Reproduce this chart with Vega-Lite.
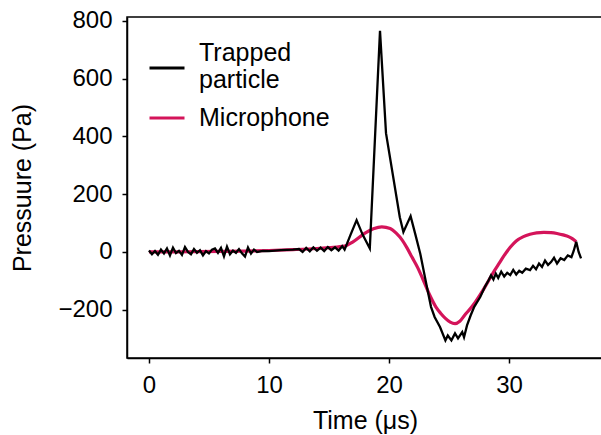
{
  "$schema": "https://vega.github.io/schema/vega-lite/v6.json",
  "autosize": "none",
  "width": 476,
  "height": 341,
  "padding": {"left": 127, "top": 17, "right": 0, "bottom": 77},
  "background": "white",
  "config": {
    "font": "Liberation Sans",
    "view": {"stroke": "black", "strokeWidth": 1.5},
    "axis": {
      "grid": false,
      "domainColor": "black",
      "domainWidth": 1.5,
      "tickColor": "black",
      "tickWidth": 1.5,
      "tickSize": 5,
      "labelColor": "black",
      "titleColor": "black",
      "labelFontSize": 24,
      "titleFontSize": 25,
      "titleFontWeight": "normal",
      "labelFont": "Liberation Sans",
      "titleFont": "Liberation Sans"
    }
  },
  "datasets": {
    "trace": [
      {"series": "Trapped particle", "t": 0, "p": 5},
      {"series": "Trapped particle", "t": 0.25, "p": -8},
      {"series": "Trapped particle", "t": 0.5, "p": 3},
      {"series": "Trapped particle", "t": 0.75, "p": -10},
      {"series": "Trapped particle", "t": 1.0, "p": 8},
      {"series": "Trapped particle", "t": 1.25, "p": -5},
      {"series": "Trapped particle", "t": 1.5, "p": 12},
      {"series": "Trapped particle", "t": 1.75, "p": -12},
      {"series": "Trapped particle", "t": 2.0, "p": 15},
      {"series": "Trapped particle", "t": 2.25, "p": -4},
      {"series": "Trapped particle", "t": 2.5, "p": 4},
      {"series": "Trapped particle", "t": 2.75, "p": -10},
      {"series": "Trapped particle", "t": 3.0, "p": 17},
      {"series": "Trapped particle", "t": 3.25, "p": 0},
      {"series": "Trapped particle", "t": 3.5, "p": -8},
      {"series": "Trapped particle", "t": 3.75, "p": 10},
      {"series": "Trapped particle", "t": 4.0, "p": -3},
      {"series": "Trapped particle", "t": 4.25, "p": 6},
      {"series": "Trapped particle", "t": 4.5, "p": -12},
      {"series": "Trapped particle", "t": 4.75, "p": 3},
      {"series": "Trapped particle", "t": 5.0, "p": -5},
      {"series": "Trapped particle", "t": 5.25, "p": 8},
      {"series": "Trapped particle", "t": 5.5, "p": 12},
      {"series": "Trapped particle", "t": 5.75, "p": -3},
      {"series": "Trapped particle", "t": 6.0, "p": 14},
      {"series": "Trapped particle", "t": 6.25, "p": -15},
      {"series": "Trapped particle", "t": 6.5, "p": 18},
      {"series": "Trapped particle", "t": 6.75, "p": -8},
      {"series": "Trapped particle", "t": 7.0, "p": 5},
      {"series": "Trapped particle", "t": 7.25, "p": -3},
      {"series": "Trapped particle", "t": 7.5, "p": 10},
      {"series": "Trapped particle", "t": 7.75, "p": -5},
      {"series": "Trapped particle", "t": 8.0, "p": -16},
      {"series": "Trapped particle", "t": 8.25, "p": 15},
      {"series": "Trapped particle", "t": 8.5, "p": -6},
      {"series": "Trapped particle", "t": 8.75, "p": 8},
      {"series": "Trapped particle", "t": 9.0, "p": 0},
      {"series": "Trapped particle", "t": 9.5, "p": 4},
      {"series": "Trapped particle", "t": 10.0, "p": 3},
      {"series": "Trapped particle", "t": 11.0, "p": 6},
      {"series": "Trapped particle", "t": 12.0, "p": 8},
      {"series": "Trapped particle", "t": 12.5, "p": 10},
      {"series": "Trapped particle", "t": 12.8, "p": 0},
      {"series": "Trapped particle", "t": 13.1, "p": 14},
      {"series": "Trapped particle", "t": 13.4, "p": 2},
      {"series": "Trapped particle", "t": 13.7, "p": 16},
      {"series": "Trapped particle", "t": 14.0, "p": 4},
      {"series": "Trapped particle", "t": 14.3, "p": 15},
      {"series": "Trapped particle", "t": 14.6, "p": 3},
      {"series": "Trapped particle", "t": 14.9, "p": 17},
      {"series": "Trapped particle", "t": 15.2, "p": 6},
      {"series": "Trapped particle", "t": 15.5, "p": 16},
      {"series": "Trapped particle", "t": 15.8, "p": 5},
      {"series": "Trapped particle", "t": 16.1, "p": 20},
      {"series": "Trapped particle", "t": 16.3, "p": 8},
      {"series": "Trapped particle", "t": 16.8, "p": 60},
      {"series": "Trapped particle", "t": 17.3, "p": 110},
      {"series": "Trapped particle", "t": 17.8, "p": 60},
      {"series": "Trapped particle", "t": 18.4, "p": 12},
      {"series": "Trapped particle", "t": 19.25, "p": 765},
      {"series": "Trapped particle", "t": 19.75, "p": 411},
      {"series": "Trapped particle", "t": 20.9, "p": 120},
      {"series": "Trapped particle", "t": 21.2, "p": 69},
      {"series": "Trapped particle", "t": 21.8, "p": 124},
      {"series": "Trapped particle", "t": 22.2, "p": 60},
      {"series": "Trapped particle", "t": 22.6, "p": -5},
      {"series": "Trapped particle", "t": 23.1, "p": -109},
      {"series": "Trapped particle", "t": 23.5, "p": -190},
      {"series": "Trapped particle", "t": 23.8, "p": -225},
      {"series": "Trapped particle", "t": 24.25, "p": -260},
      {"series": "Trapped particle", "t": 24.7, "p": -306},
      {"series": "Trapped particle", "t": 24.9, "p": -289},
      {"series": "Trapped particle", "t": 25.2, "p": -306},
      {"series": "Trapped particle", "t": 25.5, "p": -282},
      {"series": "Trapped particle", "t": 25.75, "p": -299},
      {"series": "Trapped particle", "t": 26.1, "p": -277},
      {"series": "Trapped particle", "t": 26.25, "p": -295},
      {"series": "Trapped particle", "t": 26.5, "p": -254},
      {"series": "Trapped particle", "t": 26.8, "p": -220},
      {"series": "Trapped particle", "t": 27.1, "p": -190},
      {"series": "Trapped particle", "t": 27.6, "p": -156},
      {"series": "Trapped particle", "t": 28.0, "p": -120},
      {"series": "Trapped particle", "t": 28.3, "p": -98},
      {"series": "Trapped particle", "t": 28.5, "p": -81},
      {"series": "Trapped particle", "t": 28.7, "p": -95},
      {"series": "Trapped particle", "t": 28.9, "p": -75},
      {"series": "Trapped particle", "t": 29.1, "p": -90},
      {"series": "Trapped particle", "t": 29.35, "p": -68},
      {"series": "Trapped particle", "t": 29.6, "p": -85},
      {"series": "Trapped particle", "t": 29.85, "p": -72},
      {"series": "Trapped particle", "t": 30.1, "p": -80},
      {"series": "Trapped particle", "t": 30.35, "p": -62},
      {"series": "Trapped particle", "t": 30.6, "p": -78},
      {"series": "Trapped particle", "t": 30.85, "p": -65},
      {"series": "Trapped particle", "t": 31.1, "p": -72},
      {"series": "Trapped particle", "t": 31.4, "p": -58},
      {"series": "Trapped particle", "t": 31.75, "p": -63},
      {"series": "Trapped particle", "t": 32.0, "p": -48},
      {"series": "Trapped particle", "t": 32.25, "p": -60},
      {"series": "Trapped particle", "t": 32.5, "p": -40},
      {"series": "Trapped particle", "t": 32.75, "p": -52},
      {"series": "Trapped particle", "t": 33.0, "p": -30},
      {"series": "Trapped particle", "t": 33.25, "p": -45},
      {"series": "Trapped particle", "t": 33.5, "p": -35},
      {"series": "Trapped particle", "t": 33.75, "p": -20},
      {"series": "Trapped particle", "t": 34.0, "p": -40},
      {"series": "Trapped particle", "t": 34.3, "p": -22},
      {"series": "Trapped particle", "t": 34.6, "p": -28},
      {"series": "Trapped particle", "t": 34.9, "p": -12},
      {"series": "Trapped particle", "t": 35.2, "p": -18},
      {"series": "Trapped particle", "t": 35.4, "p": 5},
      {"series": "Trapped particle", "t": 35.6, "p": 35},
      {"series": "Trapped particle", "t": 35.8, "p": 0},
      {"series": "Trapped particle", "t": 36.0, "p": -22},
      {"series": "Microphone", "t": 0, "p": 0},
      {"series": "Microphone", "t": 2, "p": 0},
      {"series": "Microphone", "t": 4, "p": 1},
      {"series": "Microphone", "t": 6, "p": 2},
      {"series": "Microphone", "t": 8, "p": 3},
      {"series": "Microphone", "t": 10, "p": 5},
      {"series": "Microphone", "t": 12, "p": 8},
      {"series": "Microphone", "t": 14, "p": 12},
      {"series": "Microphone", "t": 15, "p": 15},
      {"series": "Microphone", "t": 16.3, "p": 20},
      {"series": "Microphone", "t": 17, "p": 35},
      {"series": "Microphone", "t": 18, "p": 65},
      {"series": "Microphone", "t": 18.7, "p": 80},
      {"series": "Microphone", "t": 19.4, "p": 87},
      {"series": "Microphone", "t": 20.1, "p": 81},
      {"series": "Microphone", "t": 20.6, "p": 65},
      {"series": "Microphone", "t": 21.1, "p": 41},
      {"series": "Microphone", "t": 21.5, "p": 14},
      {"series": "Microphone", "t": 21.9, "p": -17},
      {"series": "Microphone", "t": 22.4, "p": -55},
      {"series": "Microphone", "t": 22.8, "p": -92},
      {"series": "Microphone", "t": 23.4, "p": -150},
      {"series": "Microphone", "t": 23.9, "p": -190},
      {"series": "Microphone", "t": 24.3, "p": -212},
      {"series": "Microphone", "t": 24.7, "p": -230},
      {"series": "Microphone", "t": 25.1, "p": -243},
      {"series": "Microphone", "t": 25.5, "p": -248},
      {"series": "Microphone", "t": 25.9, "p": -240},
      {"series": "Microphone", "t": 26.3, "p": -219},
      {"series": "Microphone", "t": 26.8, "p": -195},
      {"series": "Microphone", "t": 27.2, "p": -173},
      {"series": "Microphone", "t": 27.6, "p": -148},
      {"series": "Microphone", "t": 28.0, "p": -121},
      {"series": "Microphone", "t": 28.4, "p": -92},
      {"series": "Microphone", "t": 28.8, "p": -64},
      {"series": "Microphone", "t": 29.2, "p": -38},
      {"series": "Microphone", "t": 29.6, "p": -12},
      {"series": "Microphone", "t": 30.1, "p": 16},
      {"series": "Microphone", "t": 30.6, "p": 38},
      {"series": "Microphone", "t": 31.2, "p": 53},
      {"series": "Microphone", "t": 31.75, "p": 61},
      {"series": "Microphone", "t": 32.3, "p": 66},
      {"series": "Microphone", "t": 32.9, "p": 68},
      {"series": "Microphone", "t": 33.5, "p": 67},
      {"series": "Microphone", "t": 34.0, "p": 64},
      {"series": "Microphone", "t": 34.5, "p": 59},
      {"series": "Microphone", "t": 35.0, "p": 52},
      {"series": "Microphone", "t": 35.3, "p": 45},
      {"series": "Microphone", "t": 35.6, "p": 35}
    ]
  },
  "data": {"name": "trace"},
  "encoding": {
    "x": {
      "field": "t",
      "type": "quantitative",
      "scale": {"domain": [-1.83, 37.83], "nice": false, "zero": false},
      "axis": {"values": [0, 10, 20, 30], "title": "Time (μs)", "labelPadding": 10, "titlePadding": 11}
    },
    "y": {
      "field": "p",
      "type": "quantitative",
      "scale": {"domain": [-367, 813], "nice": false, "zero": false},
      "axis": {"values": [-200, 0, 200, 400, 600, 800], "title": "Pressuure (Pa)", "labelPadding": 10, "titlePadding": 22}
    },
    "color": {
      "field": "series",
      "type": "nominal",
      "scale": {"domain": ["Trapped particle", "Microphone"], "range": ["black", "#d4145a"]},
      "legend": {
        "title": null,
        "orient": "none",
        "legendX": 21,
        "legendY": 32,
        "padding": 0,
        "symbolType": "stroke",
        "symbolSize": 1225,
        "symbolStrokeWidth": 3,
        "labelFontSize": 25,
        "labelFont": "Liberation Sans",
        "labelColor": "black",
        "labelOffset": 13,
        "rowPadding": 6,
        "labelExpr": "datum.label == 'Trapped particle' ? ['Trapped', 'particle'] : datum.label",
        "encode": {
          "labels": {
            "update": {
              "dy": [{"test": "datum.label == 'Trapped particle'", "value": -15}, {"value": 0}]
            }
          }
        }
      }
    }
  },
  "layer": [
    {
      "transform": [{"filter": "datum.series == 'Microphone'"}],
      "mark": {"type": "line", "strokeWidth": 3.2, "interpolate": "monotone"}
    },
    {
      "transform": [{"filter": "datum.series == 'Trapped particle'"}],
      "mark": {"type": "line", "strokeWidth": 2.3}
    }
  ]
}
